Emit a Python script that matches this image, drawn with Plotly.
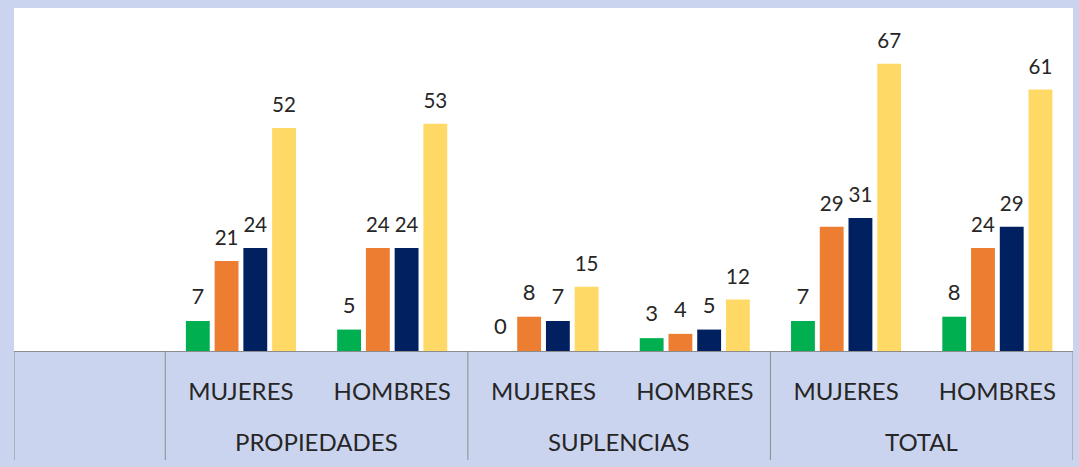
import plotly.graph_objects as go

grupos = ["PROPIEDADES", "SUPLENCIAS", "TOTAL"]
sexo = ["", "MUJERES", "HOMBRES", "MUJERES", "HOMBRES", "MUJERES", "HOMBRES"]
posiciones = [0, 1, 2, 3, 4, 5, 6]

serie_verde = [None, 7, 5, 0, 3, 7, 8]
serie_naranja = [None, 21, 24, 8, 4, 29, 24]
serie_azul = [None, 24, 24, 7, 5, 31, 29]
serie_amarilla = [None, 52, 53, 15, 12, 67, 61]

nombres = ["Serie 1", "Serie 2", "Serie 3", "Serie 4"]
colores = ["#00B050", "#ED7D31", "#002060", "#FFD966"]
series = [serie_verde, serie_naranja, serie_azul, serie_amarilla]

FONT = "Lato, Open Sans, sans-serif"
TXT = "#262626"
LINE = "#8c8c8c"

fig = go.Figure()
for nombre, color, vals in zip(nombres, colores, series):
    fig.add_trace(go.Bar(
        x=posiciones, y=vals, name=nombre,
        marker=dict(color=color, line=dict(width=0)),
        text=[("" if v is None else f"<span style='font-size:22px'>{v}</span><br> ") for v in vals],
        textposition="outside", cliponaxis=False,
        textfont=dict(family=FONT, size=9, color=TXT),
    ))

plot_h = 467 - 8 - 116
bordes = [-0.5, 0.5, 2.5, 4.5, 6.5]
for b in bordes:
    fig.add_shape(type="line", xref="x", yref="paper", x0=b, x1=b,
                  y0=0, y1=-(460 - 351) / plot_h, line=dict(color=LINE, width=1))
for i, g in enumerate(grupos):
    fig.add_annotation(x=1.5 + 2 * i, y=-(441 - 351) / plot_h, xref="x", yref="paper",
                       text=g, showarrow=False, yanchor="middle",
                       font=dict(family=FONT, size=24, color=TXT))

fig.update_layout(
    width=1079, height=467,
    margin=dict(l=14, r=6, t=8, b=116),
    paper_bgcolor="#cbd4ef",
    plot_bgcolor="#ffffff",
    barmode="group", bargap=0.24, bargroupgap=0.17,
    showlegend=False,
    font=dict(family=FONT, size=20, color=TXT),
    xaxis=dict(range=[-0.5, 6.5], tickmode="array", tickvals=posiciones, ticktext=sexo,
               showline=True, linecolor=LINE, linewidth=1, showgrid=False, zeroline=False,
               ticks="", ticklabelstandoff=19, automargin=False,
               tickfont=dict(family=FONT, size=24, color=TXT)),
    yaxis=dict(range=[0, 80], visible=False, showgrid=False, zeroline=False, automargin=False),
)

fig.write_html("out.html", config={"displayModeBar": False},
               post_script="document.body.style.margin='0';")
